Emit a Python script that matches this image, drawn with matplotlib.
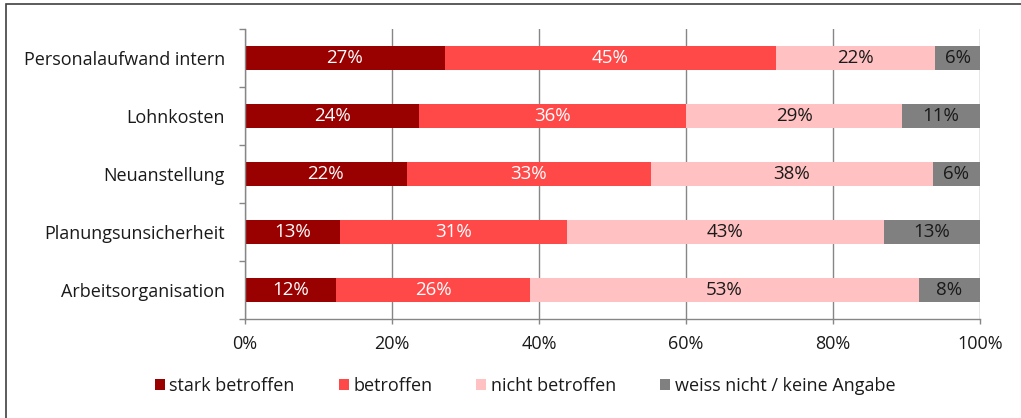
import matplotlib
matplotlib.use("Agg")
import matplotlib.pyplot as plt
from matplotlib.patches import Rectangle
import numpy as np

plt.rcParams['font.family'] = ['Open Sans', 'DejaVu Sans']

categories = ["Personalaufwand intern", "Lohnkosten", "Neuanstellung",
              "Planungsunsicherheit", "Arbeitsorganisation"]
series_names = ["stark betroffen", "betroffen", "nicht betroffen",
                "weiss nicht / keine Angabe"]
stark = [27.2, 23.7, 22.0, 12.9, 12.4]
betroffen = [45.0, 36.3, 33.2, 30.9, 26.4]
nicht = [21.7, 29.4, 38.4, 43.1, 52.9]
weiss = [6.1, 10.6, 6.4, 13.1, 8.3]
tick_labels = ["0%", "20%", "40%", "60%", "80%", "100%"]

colors = ["#990000", "#FF4848", "#FFC1C1", "#808080"]
text_colors = ["white", "white", "#1a1a1a", "#1a1a1a"]

fig = plt.figure(figsize=(10.21, 4.18), dpi=100)
W, H = 1021, 418
ax = fig.add_axes([245 / W, 1 - 319 / H, (980 - 245) / W, (319 - 29) / H])

series = [stark, betroffen, nicht, weiss]
y = np.arange(len(categories))
left = np.zeros(len(categories))
for vals, c, tc, name in zip(series, colors, text_colors, series_names):
    vals = np.array(vals)
    ax.barh(y, vals, left=left, height=0.4, color=c, label=name)
    for yi, l, v in zip(y, left, vals):
        ax.text(l + v / 2, yi, f"{int(round(v))}%", ha="center", va="center",
                color=tc, fontsize=13.5)
    left += vals

ax.set_xlim(0, 100)
ax.set_ylim(len(categories) - 0.5, -0.5)
ax.set_yticks(y)
ax.set_yticklabels(categories, fontsize=13, color="#1a1a1a")
ax.set_yticks(np.arange(-0.5, len(categories), 1), minor=True)
ax.tick_params(axis="y", which="major", length=0, pad=14.5)
ax.tick_params(axis="y", which="minor", length=4.5, color="#868686", width=1)
ax.set_xticks(np.arange(0, 101, 20))
ax.set_xticklabels(tick_labels, fontsize=13, color="#1a1a1a")
ax.tick_params(axis="x", length=3.6, color="#868686", width=1, pad=8)
ax.grid(axis="x", color="#868686", linewidth=1)
ax.set_axisbelow(True)
for s in ["top", "right"]:
    ax.spines[s].set_visible(False)
for s in ["left", "bottom"]:
    ax.spines[s].set_color("#868686")
    ax.spines[s].set_linewidth(1)

leg = fig.legend(loc="center", bbox_to_anchor=(525 / W, 1 - 386 / H), ncol=4,
                 frameon=False, fontsize=13, handlelength=0.55, handleheight=0.55,
                 handletextpad=0.25, columnspacing=2.45)
for t in leg.get_texts():
    t.set_color("#1a1a1a")

fig.patches.append(Rectangle((6 / W, -0.1), 1.2, 1 - 4 / H + 0.1,
                             transform=fig.transFigure, fill=False,
                             edgecolor="#404040", linewidth=1.2))

fig.savefig("out.png", dpi=100)
